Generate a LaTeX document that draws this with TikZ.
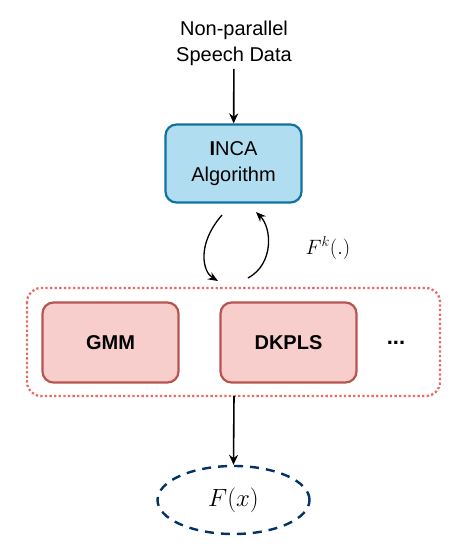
\documentclass[tikz,border=0pt]{standalone}
\usepackage{fontspec}
\setmainfont{Liberation Sans}
\usetikzlibrary{arrows.meta,shapes.geometric}
\definecolor{incafill}{RGB}{177,221,240}
\definecolor{incadraw}{RGB}{16,115,158}
\definecolor{modfill}{RGB}{248,206,204}
\definecolor{moddraw}{RGB}{184,84,80}
\definecolor{groupdraw}{RGB}{234,107,102}
\definecolor{outdraw}{RGB}{0,51,102}
\begin{document}
\begin{tikzpicture}[x=1pt,y=-1pt,font=\fontsize{20}{26}\selectfont,
  flow/.style={-{Stealth[length=10pt,width=9pt]},line width=1.6pt},
  loopar/.style={-{Stealth[length=10pt,width=8pt]},line width=1.3pt},
  algobox/.style={draw=incadraw,fill=incafill,line width=2.2pt,rounded corners=11pt,
    minimum width=136pt,minimum height=78pt,align=center},
  modbox/.style={draw=moddraw,fill=modfill,line width=2.2pt,rounded corners=11pt,
    minimum width=136pt,minimum height=80pt,font=\fontsize{20}{24}\selectfont\bfseries}]
\useasboundingbox (0,0) rectangle (468,552);
% group of models
\draw[groupdraw,line width=2.3pt,dash pattern=on 2.3pt off 2.3pt,rounded corners=14pt] (27,288) rectangle (440,396);
\coordinate (grouptop) at (234,288);
\coordinate (groupbot) at (234,396);
\node[align=center] (input) at (234,43) {Non-parallel\\Speech Data};
\node[algobox] (inca) at (233.5,163.5) {\textbf{I}NCA\\Algorithm};
\node[modbox] (gmm) at (110.5,342.5) {GMM};
\node[modbox] (dkpls) at (288.5,342.5) {DKPLS};
\node[font=\fontsize{22}{24}\selectfont\bfseries] (dots) at (396,343) {...};
\node[draw=outdraw,dashed,line width=2.4pt,dash pattern=on 9pt off 7pt,ellipse,
  minimum width=152pt,minimum height=68pt] (fx) at (233.5,500) {\fontsize{31}{32}\selectfont$F(x)$};
\node (fk) at (328,248) {\fontsize{22}{24}\selectfont$F^k(.)$};
% arrows
\draw[flow] (input) -- (inca);
\coordinate (l0) at (222,215);
\coordinate (l1) at (218,281);
\coordinate (r0) at (248,278);
\coordinate (r1) at (256,212);
\draw[loopar] (l0) .. controls (196,245) and (203,272) .. (l1);
\draw[loopar] (r0) .. controls (274,264) and (272,228) .. (r1);
\draw[flow] (groupbot) -- (fx.north);
\end{tikzpicture}
\end{document}
